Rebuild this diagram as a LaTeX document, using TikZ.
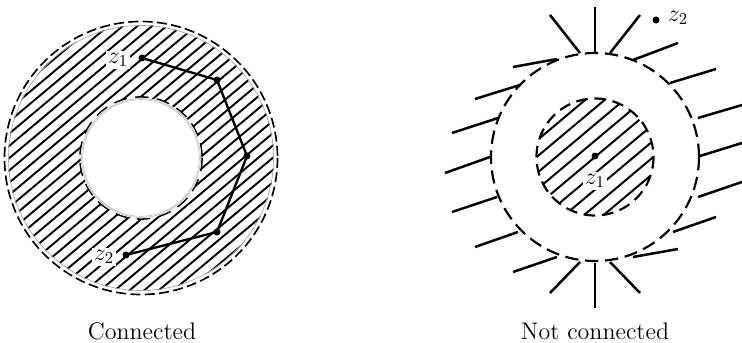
\documentclass[tikz,border=0pt]{standalone}
\begin{document}
\begin{tikzpicture}[x=0.6pt,y=-0.6pt,font=\Large,
  dot/.style={circle,fill=black,inner sep=0pt,minimum size=4.2pt},
  lab/.style={fill=white,inner sep=1pt},
  hatch/.style={line width=1.15pt},
  ray/.style={line width=1.5pt},
  path/.style={line width=1.4pt}]
\useasboundingbox (0,0) rectangle (742,343);
% ---------- Left: connected annulus ----------
\coordinate (cL) at (141,158);
\begin{scope}
  \clip (cL) circle (133);
  \begin{scope}[shift={(cL)},rotate=40]
    \foreach \k in {-16,...,16} \draw[hatch] (-160,\k*9.4) -- (160,\k*9.4);
  \end{scope}
\end{scope}
\draw[gray!70,line width=0.4pt] (cL) circle (132.5);
\draw[line width=1pt,dash pattern=on 6pt off 2.6pt] (cL) circle (136.5);
\draw[line width=1pt,dash pattern=on 8pt off 5pt] (cL) circle (61);
\fill[white] (cL) circle (60.3);
\draw[gray!60,line width=0.3pt] (cL) circle (59.5);
\draw[gray!60,line width=0.3pt] (cL) circle (58.3);
\node[dot] (a1) at (142,58) {};
\node[dot] (a2) at (217,80) {};
\node[dot] (a3) at (247,156) {};
\node[dot] (a4) at (217,232) {};
\node[dot] (a5) at (126,255) {};
\draw[path] (a1.center) -- (a2.center) -- (a3.center) -- (a4.center) -- (a5.center);
\node[lab] (z1L) at (118,60) {$z_1$};
\node[lab] (z2L) at (104,257) {$z_2$};
\node (capL) at (142,331) {Connected};
% ---------- Right: not connected ----------
\coordinate (cR) at (595,157);
\begin{scope}
  \clip (cR) circle (58);
  \begin{scope}[shift={(cR)},rotate=40]
    \foreach \k in {-6,...,6} \draw[hatch,line width=1.2pt] (-80,\k*12.5) -- (80,\k*12.5);
  \end{scope}
\end{scope}
\draw[line width=1.3pt,dash pattern=on 7pt off 4pt] (cR) circle (58.5);
\draw[line width=1.3pt,dash pattern=on 8pt off 4pt] (cR) circle (104);
\node[dot] (b1) at (595,156) {};
\node[lab] (z1R) at (595,181) {$z_1$};
\node[dot] (b2) at (656,20) {};
\node[inner sep=1pt] (z2R) at (678,18) {$z_2$};
% exterior strokes
\foreach \ax/\ay/\bx/\by in {
  595/7/595/53, 550/15/580/53, 640/15/610/53,
  678/43/633/60, 716/69/670/83, 742/105/698/118, 742/143/700/156,
  742/182/698/197, 716/217/673/232, 678/249/633/257,
  595/263/595/308, 610/262/640/293, 580/262/550/293,
  513/272/557/257, 475/247/518/232, 452/212/497/197, 445/173/490/157,
  452/133/498/118, 475/99/520/85, 513/67/557/59}
  \draw[ray] (\ax,\ay) -- (\bx,\by);
\node (capR) at (595,331) {Not connected};
\end{tikzpicture}
\end{document}
